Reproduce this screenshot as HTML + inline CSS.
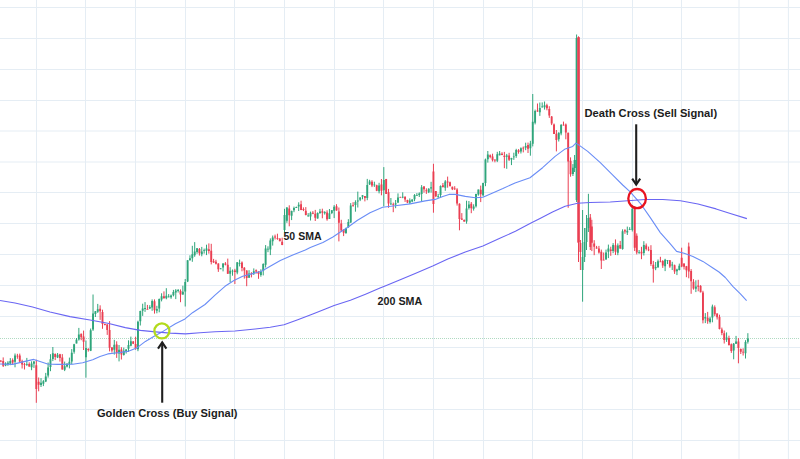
<!DOCTYPE html>
<html lang="en"><head><meta charset="utf-8"><title>Golden Cross and Death Cross</title>
<style>html,body{margin:0;padding:0;background:#fff}body{width:800px;height:459px;overflow:hidden}svg{display:block}</style>
</head><body>
<svg width="800" height="459" viewBox="0 0 800 459">
<rect width="800" height="459" fill="#fff"/>
<path d="M36.5 0V459M85.5 0V459M135.5 0V459M185.5 0V459M234.5 0V459M284.5 0V459M334.5 0V459M383.5 0V459M433.5 0V459M483.5 0V459M532.5 0V459M582.5 0V459M632.5 0V459M681.5 0V459M739.0 0V459M788.4 0V459M0 7.5H800M0 38.5H800M0 69.5H800M0 100.5H800M0 131.0H800M0 162.0H800M0 192.5H800M0 223.5H800M0 254.5H800M0 285.5H800M0 316.5H800M0 347.5H800M0 378.5H800M0 409.5H800M0 440.5H800" stroke="#e5edf4" stroke-width="1" fill="none"/>
<path d="M0 338.5H800" stroke="#b0dac2" stroke-width="1" stroke-dasharray="1 1" fill="none"/>
<path d="M5.57 362.3V366.2M7.93 361.2V365.8M10.30 358.1V365.2M15.02 353.5V367.3M26.84 357.9V365.9M31.57 361.3V370.2M33.94 361.1V367.9M41.03 378.1V387.0M43.39 380.1V386.1M45.76 372.9V382.1M48.12 362.5V377.6M50.48 354.2V371.2M52.85 347.0V361.1M57.58 353.0V358.1M64.67 361.6V371.1M67.03 363.3V367.4M69.40 357.6V368.4M71.76 349.1V364.2M74.12 343.8V353.7M76.49 338.0V343.4M78.85 327.9V340.6M85.94 340.5V377.7M90.67 328.5V351.1M93.04 294.5V330.9M95.40 311.0V317.0M97.76 303.9V312.9M114.31 339.8V354.6M119.04 345.0V361.4M123.77 347.6V355.6M126.13 349.1V353.6M128.50 340.3V352.0M130.86 336.6V346.3M137.95 320.7V351.2M140.32 310.7V325.5M142.68 303.7V315.9M145.04 302.1V311.9M149.77 305.2V309.1M152.14 299.4V310.8M156.86 305.8V313.3M159.23 298.5V312.3M161.59 293.3V301.4M166.32 288.2V299.3M168.68 294.1V297.4M171.05 294.5V298.8M173.41 289.9V296.4M175.78 289.1V299.1M178.14 289.0V292.5M182.87 285.7V294.8M185.23 279.0V306.5M187.60 260.2V282.1M189.96 255.3V260.5M192.32 245.8V261.8M194.69 242.1V256.8M197.05 248.0V253.8M201.78 246.9V256.3M204.14 248.6V253.6M206.51 244.7V255.1M220.69 268.0V269.1M223.06 263.2V271.4M230.15 267.2V282.1M232.51 269.5V275.7M237.24 262.2V274.3M239.60 259.6V266.4M249.06 270.2V277.7M253.79 268.4V275.0M260.88 269.3V276.7M263.24 263.3V275.4M265.61 245.1V267.5M267.97 246.3V252.2M270.34 238.4V255.1M272.70 235.5V245.6M284.52 208.8V232.6M286.88 207.2V222.8M291.61 210.6V220.1M293.98 206.6V212.2M296.34 206.6V207.9M298.70 202.3V211.0M308.16 213.1V216.8M310.52 211.6V220.5M317.62 212.4V218.6M319.98 208.9V213.9M324.71 211.2V214.6M329.44 209.0V219.0M331.80 210.0V214.1M334.16 205.1V218.1M345.98 227.7V233.9M348.35 219.2V227.7M350.71 203.1V222.9M355.44 200.3V211.7M357.80 191.6V207.5M360.17 197.2V201.1M362.53 195.1V199.3M367.26 178.9V200.2M369.62 179.8V184.9M374.35 181.7V186.9M379.08 182.8V193.4M383.81 167.1V206.4M390.90 198.0V205.0M395.63 200.0V208.2M397.99 193.4V203.1M402.72 192.3V198.2M409.81 198.4V204.0M412.18 199.3V202.2M414.54 194.1V201.2M416.90 193.1V195.6M419.27 192.4V197.0M421.63 185.1V201.5M428.72 188.2V193.1M431.09 181.8V192.6M438.18 193.8V198.1M440.54 185.4V197.8M445.27 180.1V190.8M466.55 200.7V223.7M468.91 201.0V209.5M473.64 204.3V210.6M476.00 193.7V207.5M478.37 189.6V195.7M483.10 182.7V196.5M485.46 158.6V186.2M487.82 151.0V162.6M497.28 151.8V162.1M499.64 151.0V155.4M506.74 153.9V168.8M511.46 157.8V165.1M513.83 152.7V159.9M516.19 148.8V157.8M520.92 147.4V153.5M525.65 142.7V150.2M530.38 140.8V155.7M532.74 94.0V146.4M535.10 109.6V124.4M539.83 102.5V115.9M542.20 102.4V107.7M544.56 101.5V109.6M558.74 132.3V141.5M561.11 124.0V135.3M572.93 164.1V176.0M574.60 155.0V172.0M576.60 34.5V202.0M582.60 210.0V301.7M584.60 228.0V262.0M586.50 215.0V250.0M588.40 193.8V232.0M606.02 249.6V259.7M608.39 244.6V258.1M613.12 243.1V253.2M617.84 243.4V255.2M622.57 229.3V249.7M627.30 226.6V235.0M629.66 227.2V230.1M632.30 205.0V231.5M639.12 250.0V253.9M643.85 241.2V255.5M655.67 262.0V270.2M658.03 259.5V267.9M665.12 258.8V271.1M667.49 260.2V264.1M672.22 261.8V270.0M676.94 268.7V275.1M679.31 263.6V270.4M695.86 280.3V292.1M705.31 313.1V323.1M710.04 316.8V323.5M712.40 304.6V322.3M726.59 332.4V341.9M733.68 343.0V359.3M736.04 335.9V344.0M745.50 340.2V358.5M747.86 333.2V343.6" stroke="#2fa57b" stroke-width="1.0" fill="none"/>
<path d="M0.84 360.0V362.2M3.20 357.4V367.0M12.66 358.4V364.6M17.39 353.8V358.8M19.75 353.6V362.3M22.12 359.7V368.5M24.48 362.8V369.5M29.21 362.3V366.8M36.30 359.7V402.8M38.66 377.5V391.3M55.21 353.4V360.1M59.94 353.8V361.6M62.30 354.1V369.6M81.22 333.6V340.2M83.58 330.6V350.0M88.31 348.2V351.6M100.13 305.3V319.9M102.49 309.7V328.8M104.86 323.6V325.4M107.22 324.1V334.9M109.58 321.1V351.4M111.95 347.0V352.6M116.68 341.3V357.9M121.40 347.2V359.5M133.22 341.0V344.1M135.59 336.7V349.8M147.41 304.9V309.4M154.50 299.4V313.6M163.96 291.4V298.6M180.50 289.4V302.2M199.42 248.0V255.6M208.87 243.4V253.7M211.24 243.8V264.4M213.60 258.9V262.9M215.96 259.8V264.5M218.33 263.3V271.9M225.42 262.1V265.4M227.78 258.6V273.9M234.88 268.8V284.0M241.97 261.4V271.3M244.33 267.1V278.6M246.70 270.3V286.2M251.42 272.2V277.4M256.15 269.4V273.6M258.52 271.4V278.8M275.06 234.6V239.5M277.43 233.7V239.8M279.79 238.3V241.2M282.16 237.7V245.2M289.25 205.3V226.3M301.07 200.7V210.2M303.43 207.4V211.1M305.80 207.1V215.4M312.89 211.1V214.2M315.25 209.9V221.0M322.34 208.7V218.3M327.07 210.3V220.7M336.53 204.2V210.7M338.89 207.5V241.4M341.26 219.8V232.0M343.62 229.3V236.1M353.08 202.2V206.8M364.90 196.1V201.4M371.99 180.2V187.1M376.72 184.7V191.2M381.44 179.0V195.3M386.17 178.9V193.9M388.54 188.9V207.8M393.26 202.6V212.2M400.36 196.7V197.3M405.08 196.4V201.9M407.45 199.7V203.1M424.00 186.1V192.6M426.36 188.3V193.9M433.45 163.8V212.7M435.82 191.1V197.1M442.91 183.0V187.6M447.64 176.6V187.7M450.00 181.6V186.6M452.36 186.6V190.1M454.73 186.2V189.9M457.09 188.2V205.6M459.46 203.3V230.3M461.82 213.1V219.9M464.18 219.4V221.8M471.28 202.0V213.2M480.73 185.6V202.1M490.19 154.4V158.3M492.55 153.7V161.5M494.92 159.6V162.3M502.01 152.2V155.2M504.37 151.9V168.2M509.10 152.8V161.0M518.56 149.1V153.7M523.28 146.5V152.4M528.01 142.6V153.0M537.47 103.5V111.8M546.92 103.7V110.3M549.29 106.2V117.9M551.65 116.0V125.1M554.02 123.5V134.0M556.38 130.0V151.4M563.47 121.6V125.5M565.84 123.5V139.3M568.20 132.6V207.8M570.56 157.4V176.7M578.50 36.3V262.0M580.40 240.0V270.0M590.30 214.0V250.0M591.84 219.8V251.1M594.20 240.2V255.2M596.57 245.9V248.7M598.93 245.9V253.6M601.30 249.6V269.0M603.66 252.5V260.2M610.75 246.7V255.8M615.48 239.4V255.0M620.21 240.9V248.8M624.94 229.2V233.8M634.70 206.0V251.0M636.76 233.4V254.4M641.48 246.8V259.2M646.21 243.5V250.5M648.58 246.6V251.2M650.94 245.2V265.9M653.30 260.9V282.6M660.40 256.8V262.0M662.76 260.1V267.9M669.85 260.0V267.9M674.58 264.6V273.9M681.67 247.7V267.2M684.04 263.4V269.5M686.40 265.9V277.2M688.76 242.6V278.3M691.13 269.1V293.8M693.49 279.2V289.7M698.22 279.8V291.3M700.58 285.1V292.4M702.95 290.8V323.4M707.68 311.9V323.8M714.77 305.4V316.1M717.13 313.3V319.5M719.50 314.7V329.4M721.86 327.6V335.2M724.22 330.5V343.5M728.95 335.7V345.6M731.32 343.5V352.9M738.41 338.1V363.3M740.77 348.5V354.0M743.14 348.3V355.5" stroke="#ea3f52" stroke-width="1.0" fill="none"/>
<path d="M5.57 363.5V365.6M7.93 362.8V364.2M10.30 361.0V363.7M15.02 355.6V361.8M26.84 364.3V365.1M31.57 363.4V367.2M33.94 361.5V363.8M41.03 382.7V385.1M43.39 381.2V383.7M45.76 376.4V381.6M48.12 367.6V375.6M50.48 359.2V367.1M52.85 353.3V359.1M57.58 354.7V357.6M64.67 366.2V369.7M67.03 363.7V366.5M69.40 361.7V364.3M71.76 352.7V361.5M74.12 344.3V351.8M76.49 339.8V343.4M78.85 334.4V339.5M85.94 348.1V357.2M90.67 330.3V350.8M93.04 313.6V329.4M95.40 311.2V314.0M97.76 309.3V311.7M114.31 344.7V349.8M119.04 349.7V353.6M123.77 350.7V355.1M126.13 349.5V351.6M128.50 345.1V348.8M130.86 341.3V345.7M137.95 321.7V349.3M140.32 310.9V321.3M142.68 308.5V310.7M145.04 308.1V308.9M149.77 307.0V308.4M152.14 301.1V307.6M156.86 309.0V310.8M159.23 299.1V308.5M161.59 296.3V299.6M166.32 295.7V298.3M168.68 296.4V297.2M171.05 295.4V297.3M173.41 292.0V295.3M175.78 290.5V292.4M178.14 289.9V290.9M182.87 291.7V294.4M185.23 281.9V291.6M187.60 260.3V281.5M189.96 258.2V260.2M192.32 254.3V258.2M194.69 251.5V255.2M197.05 248.2V252.1M201.78 251.4V254.2M204.14 249.9V250.7M206.51 248.5V250.7M220.69 268.4V269.2M223.06 263.6V267.4M230.15 270.7V273.7M232.51 270.7V271.5M237.24 262.2V272.4M239.60 262.9V263.7M249.06 273.4V277.7M253.79 271.2V273.3M260.88 271.5V274.9M263.24 264.0V270.8M265.61 248.6V264.7M267.97 248.8V249.6M270.34 240.4V249.5M272.70 237.6V241.2M284.52 215.0V230.1M286.88 207.5V220.7M291.61 211.0V215.7M293.98 208.1V210.2M296.34 207.1V207.9M298.70 204.7V206.6M308.16 215.5V216.3M310.52 212.7V216.4M317.62 213.1V218.6M319.98 211.5V213.1M324.71 212.1V213.2M329.44 213.3V219.0M331.80 210.2V213.1M334.16 206.7V210.8M345.98 227.9V233.0M348.35 222.1V227.2M350.71 205.6V222.5M355.44 202.1V205.0M357.80 200.6V201.6M360.17 197.6V199.8M362.53 195.3V196.8M367.26 185.0V198.1M369.62 181.4V184.5M374.35 184.5V185.3M379.08 185.6V191.2M383.81 180.1V190.2M390.90 203.4V204.2M395.63 203.3V204.4M397.99 197.6V202.4M402.72 196.7V197.5M409.81 200.5V202.8M412.18 199.4V201.4M414.54 195.0V199.2M416.90 195.3V196.1M419.27 193.4V194.9M421.63 187.2V193.9M428.72 188.8V192.3M431.09 187.2V188.6M438.18 195.9V196.7M440.54 185.9V194.9M445.27 181.6V187.7M466.55 208.4V221.5M468.91 204.4V207.9M473.64 206.5V208.8M476.00 194.0V206.2M478.37 189.6V194.5M483.10 182.9V195.2M485.46 159.4V182.9M487.82 154.5V159.3M497.28 154.3V160.7M499.64 153.4V155.3M506.74 155.4V156.7M511.46 158.1V159.6M513.83 156.4V157.3M516.19 150.1V156.1M520.92 148.2V151.6M525.65 146.0V147.7M530.38 143.6V148.3M532.74 121.8V143.8M535.10 111.0V122.8M539.83 108.0V112.2M542.20 106.4V107.3M544.56 105.3V107.2M558.74 132.8V139.2M561.11 125.0V133.5M572.93 167.8V174.0M574.60 160.0V168.0M576.60 38.0V200.0M582.60 257.0V270.0M584.60 242.0V257.0M586.50 228.0V242.0M588.40 218.0V228.0M606.02 252.4V259.6M608.39 248.6V251.8M613.12 245.1V250.9M617.84 245.6V252.8M622.57 231.2V249.0M627.30 230.7V232.6M629.66 229.0V229.8M632.30 208.8V230.1M639.12 251.9V252.7M643.85 245.0V252.9M655.67 267.1V268.2M658.03 261.2V267.2M665.12 259.8V266.2M667.49 260.3V261.1M672.22 264.5V265.4M676.94 269.6V271.3M679.31 265.8V269.9M695.86 286.5V288.8M705.31 317.0V318.6M710.04 318.5V322.1M712.40 306.5V317.5M726.59 337.5V339.8M733.68 343.7V350.5M736.04 341.6V343.7M745.50 342.0V353.2M747.86 338.6V341.7" stroke="#2fa57b" stroke-width="1.9" fill="none"/>
<path d="M0.84 360.7V361.5M3.20 360.9V365.7M12.66 360.1V362.6M17.39 355.8V356.6M19.75 355.6V361.5M22.12 361.3V364.6M24.48 364.2V365.0M29.21 363.9V366.6M36.30 365.2V389.0M38.66 381.7V384.8M55.21 354.0V356.9M59.94 354.2V357.9M62.30 357.4V369.5M81.22 333.7V337.3M83.58 336.5V341.8M88.31 349.1V349.9M100.13 308.8V311.3M102.49 311.9V324.1M104.86 324.1V324.9M107.22 324.4V330.0M109.58 329.9V347.7M111.95 347.4V350.4M116.68 344.6V353.2M121.40 349.6V354.5M133.22 341.4V343.7M135.59 344.0V348.5M147.41 308.9V309.7M154.50 301.2V310.2M163.96 296.3V298.2M180.50 290.9V294.4M199.42 249.1V253.3M208.87 249.2V251.1M211.24 250.7V262.0M213.60 261.3V262.5M215.96 261.8V263.8M218.33 263.4V269.2M225.42 263.5V264.8M227.78 264.7V273.7M234.88 270.4V271.9M241.97 262.4V267.9M244.33 267.8V270.5M246.70 270.6V277.9M251.42 273.4V274.2M256.15 270.2V271.4M258.52 271.5V274.1M275.06 236.6V237.4M277.43 237.9V238.7M279.79 238.6V241.2M282.16 241.7V245.1M289.25 208.5V215.3M301.07 204.2V209.9M303.43 209.1V209.9M305.80 210.7V215.0M312.89 212.7V213.7M315.25 213.7V217.8M322.34 211.2V212.7M327.07 212.5V219.2M336.53 206.3V210.5M338.89 211.4V222.7M341.26 223.5V230.6M343.62 229.7V232.7M353.08 205.2V206.0M364.90 196.1V198.1M371.99 181.7V185.4M376.72 185.2V190.7M381.44 184.6V190.7M386.17 178.9V193.9M388.54 192.2V203.5M393.26 204.2V205.0M400.36 197.0V197.8M405.08 196.7V199.5M407.45 199.9V202.5M424.00 186.6V189.3M426.36 190.2V191.3M433.45 171.4V203.9M435.82 191.1V196.3M442.91 185.2V187.1M447.64 181.6V182.6M450.00 182.3V186.1M452.36 186.7V189.2M454.73 188.4V189.2M457.09 189.5V203.5M459.46 203.7V219.0M461.82 218.5V219.8M464.18 220.0V221.6M471.28 203.7V208.3M480.73 189.7V194.2M490.19 155.2V156.9M492.55 156.5V160.2M494.92 159.6V160.4M502.01 153.7V155.1M504.37 155.7V157.1M509.10 155.6V159.7M518.56 150.3V152.0M523.28 147.7V148.5M528.01 145.1V148.7M537.47 110.4V111.6M546.92 105.3V108.3M549.29 109.1V115.6M551.65 116.5V123.6M554.02 124.5V133.9M556.38 133.7V139.9M563.47 124.8V125.6M565.84 124.6V132.6M568.20 132.7V161.5M570.56 160.7V174.3M578.50 38.0V242.6M580.40 243.0V252.0M590.30 217.6V247.0M591.84 226.5V242.7M594.20 243.4V246.7M596.57 247.6V248.4M598.93 248.6V252.4M601.30 251.7V260.4M603.66 259.7V260.5M610.75 249.4V250.9M615.48 245.2V251.8M620.21 245.1V248.5M624.94 230.3V231.6M634.70 207.6V247.7M636.76 235.8V252.6M641.48 251.8V253.6M646.21 245.5V249.1M648.58 249.4V250.2M650.94 250.0V263.9M653.30 264.7V268.7M660.40 261.4V262.2M662.76 261.1V265.4M669.85 260.2V266.4M674.58 265.2V271.5M681.67 257.7V266.5M684.04 263.5V266.7M686.40 266.3V270.2M688.76 246.4V271.5M691.13 271.1V281.3M693.49 281.7V288.5M698.22 285.5V286.8M700.58 286.1V292.2M702.95 292.6V320.2M707.68 317.8V321.2M714.77 307.2V314.2M717.13 313.4V317.3M719.50 317.1V329.1M721.86 329.5V333.1M724.22 333.2V339.9M728.95 337.9V345.1M731.32 344.3V351.1M738.41 341.6V348.0M740.77 348.9V351.8M743.14 351.8V352.6" stroke="#ea3f52" stroke-width="1.9" fill="none"/>
<path d="M578.6 37V242.6" stroke="#ea3f52" stroke-width="2.3" fill="none"/>
<path d="M0.0 364.0 L12.5 364.4 L25.0 361.4 L33.8 359.4 L40.0 361.4 L47.6 364.0 L57.6 364.4 L72.7 364.2 L82.7 362.7 L92.7 359.7 L100.0 356.4 L107.8 353.9 L117.8 352.7 L127.8 351.4 L136.6 348.1 L145.4 341.4 L155.4 335.6 L163.0 331.4 L175.4 323.8 L185.0 318.9 L192.5 312.7 L205.0 304.5 L215.0 295.1 L225.0 286.3 L233.9 280.5 L242.7 276.2 L252.7 273.6 L261.5 271.3 L270.2 266.3 L280.3 260.5 L292.8 255.0 L305.3 250.0 L310.3 247.6 L322.9 242.4 L332.9 237.0 L340.4 232.0 L347.5 227.5 L357.5 220.2 L370.0 212.7 L382.6 207.2 L395.1 205.7 L410.2 203.9 L425.2 200.9 L435.2 199.4 L442.8 196.4 L449.0 194.4 L455.3 194.4 L465.3 196.4 L475.3 197.7 L482.9 197.2 L490.4 193.9 L502.9 188.6 L515.0 182.9 L530.0 177.7 L542.6 167.7 L555.1 156.4 L565.2 148.9 L572.7 146.4 L575.9 143.1 L579.0 145.1 L587.7 151.4 L600.3 162.7 L612.8 175.2 L622.7 185.0 L630.2 191.8 L640.3 203.3 L650.3 217.6 L660.3 232.6 L670.3 243.9 L676.6 251.4 L684.1 253.2 L692.9 256.4 L702.9 261.4 L712.9 268.0 L719.0 272.0 L725.3 277.5 L732.8 286.3 L740.4 293.8 L746.6 300.6" stroke="#6a8df6" stroke-width="1.1" fill="none" stroke-linejoin="round"/>
<path d="M0.0 300.5 L15.0 303.0 L32.6 307.0 L50.0 312.0 L70.0 316.6 L90.0 320.0 L107.8 323.3 L125.3 327.6 L140.4 330.4 L155.4 331.9 L170.4 333.1 L185.5 333.9 L200.0 332.7 L215.0 331.7 L235.0 331.0 L255.2 329.0 L270.2 327.2 L284.0 324.7 L297.8 319.7 L312.8 313.9 L325.4 308.9 L334.1 305.6 L350.4 300.3 L365.5 294.2 L380.0 288.1 L385.1 286.0 L400.2 279.7 L415.2 273.4 L432.7 265.9 L447.8 258.9 L465.3 252.1 L482.9 245.9 L500.4 238.1 L515.4 231.3 L530.5 223.3 L540.0 218.5 L552.5 212.1 L565.1 206.3 L577.6 203.3 L590.1 202.5 L610.2 202.0 L627.7 200.8 L645.3 199.5 L662.8 199.5 L680.4 200.8 L698.0 204.0 L716.1 208.9 L731.1 213.8 L746.9 218.6" stroke="#6a66f3" stroke-width="1.1" fill="none" stroke-linejoin="round"/>
<circle cx="161.9" cy="330.9" r="7.5" fill="none" stroke="#b3da1c" stroke-width="2.3"/>
<ellipse cx="637.1" cy="198.6" rx="8.8" ry="9.6" fill="none" stroke="#e8131f" stroke-width="2.3"/>
<g stroke="#1f1f1f" stroke-width="2.1" fill="none" stroke-linecap="butt" stroke-linejoin="miter"><path d="M162.2 402.7V342.5"/><path d="M158 348.6L162.2 342.3L166.4 348.6"/><path d="M636.2 124.3V184"/><path d="M632.2 178.6L636.2 184.6L640.2 178.6"/></g>
<text x="283.5" y="239.6" font-size="10.6" font-family="Liberation Sans, Arial, sans-serif" font-weight="700" fill="#1c1c1c" textLength="38.1" lengthAdjust="spacingAndGlyphs">50 SMA</text>
<text x="377.6" y="304.8" font-size="10.6" font-family="Liberation Sans, Arial, sans-serif" font-weight="700" fill="#1c1c1c" textLength="44.6" lengthAdjust="spacingAndGlyphs">200 SMA</text>
<text x="97" y="416.5" font-size="11.4" font-family="Liberation Sans, Arial, sans-serif" font-weight="700" fill="#1c1c1c" textLength="140.4" lengthAdjust="spacingAndGlyphs">Golden Cross (Buy Signal)</text>
<text x="584.5" y="116.6" font-size="11.4" font-family="Liberation Sans, Arial, sans-serif" font-weight="700" fill="#1c1c1c" textLength="132.6" lengthAdjust="spacingAndGlyphs">Death Cross (Sell Signal)</text>
</svg>
</body></html>
